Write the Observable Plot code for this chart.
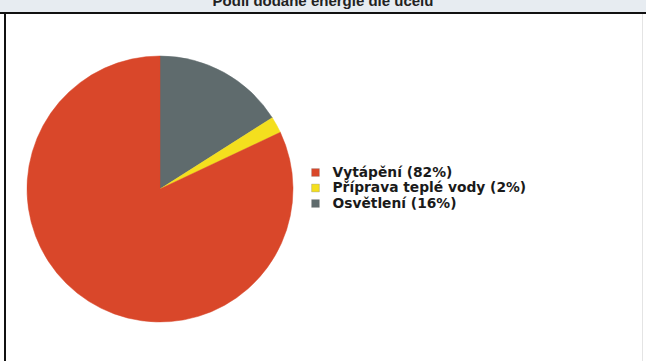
<!DOCTYPE html>
<html><head><meta charset="utf-8">
<script src="https://cdn.jsdelivr.net/npm/d3@7"></script>
<script src="https://cdn.jsdelivr.net/npm/@observablehq/plot@0.6"></script>
<style>
body{margin:0;background:#fff;}
#page{position:relative;width:646px;height:361px;overflow:hidden;background:#fff;font-family:"DejaVu Sans",sans-serif;}
#band{position:absolute;left:0;top:0;width:646px;height:12px;background:#e7ecf1;overflow:hidden;}
#title{position:absolute;left:0;width:646px;top:-8px;text-align:center;font:bold 15px "Liberation Sans",Arial,sans-serif;color:#222;}
#hline{position:absolute;left:0;top:12px;width:646px;height:2px;background:#111;}
#vline{position:absolute;left:4px;top:12px;width:2px;height:349px;background:#111;}
#rline{position:absolute;left:642px;top:14px;width:1px;height:347px;background:#e4e4e4;}
#chart{position:absolute;left:6px;top:14px;}
</style></head>
<body><div id="page"><div id="band"><div id="title">Podíl dodané energie dle účelu</div></div><div id="hline"></div><div id="vline"></div><div id="rline"></div><div id="chart"></div></div>
<script>
const categories = ["Vytápění", "Příprava teplé vody", "Osvětlení"];
const shares = [82, 2, 16];
const colors = ["#d9472a", "#f4df1e", "#5f6b6d"];

const data = categories.map((c, i) => ({name: c, value: shares[i], color: colors[i]}));
const W = 636, H = 343;
const cx = 154, cy = 175, R = 133;

// clockwise from 12 o'clock: Osvětlení, Příprava, Vytápění
const pieOrder = [2, 1, 0].map(i => data[i]);
const arcs = d3.pie().sort(null).value(d => d.value)(pieOrder);
const arcGen = d3.arc().innerRadius(0).outerRadius(R);

function pieMark(index, scales, values, dimensions) {
  const g = d3.create("svg:g").attr("transform", `translate(${cx},${cy})`);
  g.selectAll("path").data(arcs).join("path")
    .attr("d", arcGen)
    .attr("fill", d => d.data.color)
    .attr("stroke", d => d.data.color)
    .attr("stroke-width", 0.5);
  return g.node();
}

const legend = data.map((d, i) => ({...d, label: `${d.name} (${d.value}%)`, row: i}));

const plot = Plot.plot({
  width: W, height: H,
  margin: 0,
  x: {type: "identity"},
  y: {type: "identity"},
  axis: null,
  style: {background: "transparent", overflow: "visible"},
  marks: [
    pieMark,
    Plot.dot(legend, {x: () => 309, y: d => 158 + d.row * 15.5, symbol: "square", r: 4.4, fill: d => d.color, stroke: "#777", strokeWidth: 0.3}),
    Plot.text(legend, {x: () => 326, y: d => 158 + d.row * 15.5, text: "label", textAnchor: "start", fill: "#1a1a1a", fontSize: 13.8, fontWeight: "bold", fontFamily: "DejaVu Sans"})
  ]
});
document.getElementById("chart").appendChild(plot);
</script></body></html>
